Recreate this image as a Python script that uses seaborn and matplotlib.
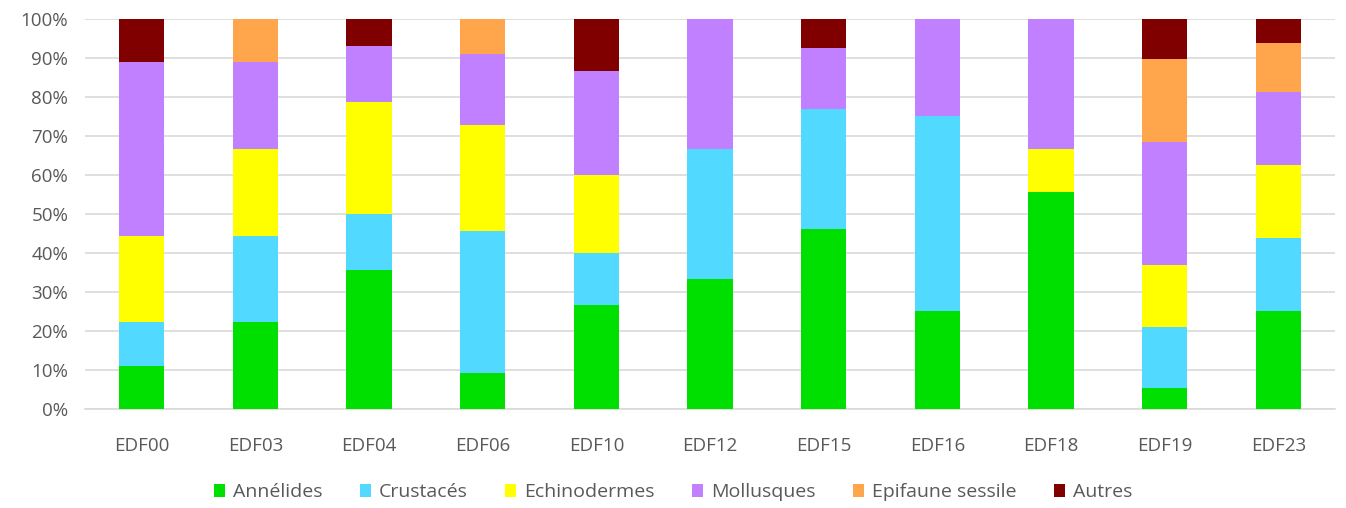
import numpy as np
import pandas as pd
import matplotlib
matplotlib.use("Agg")
import matplotlib.pyplot as plt
import seaborn as sns

sites = ["EDF00", "EDF03", "EDF04", "EDF06", "EDF10", "EDF12",
         "EDF15", "EDF16", "EDF18", "EDF19", "EDF23"]

# share of each group per site (%)
annelides    = [11.1, 22.2, 35.7, 9.1, 26.7, 33.3, 46.2, 25.0, 55.6, 5.3, 25.0]
crustaces    = [11.1, 22.2, 14.3, 36.4, 13.3, 33.3, 30.8, 50.0, 0.0, 15.8, 18.75]
echinodermes = [22.2, 22.2, 28.6, 27.3, 20.0, 0.0, 0.0, 0.0, 11.1, 15.8, 18.75]
mollusques   = [44.4, 22.2, 14.3, 18.2, 26.7, 33.3, 15.4, 25.0, 33.3, 31.6, 18.75]
epifaune     = [0.0, 11.1, 0.0, 9.1, 0.0, 0.0, 0.0, 0.0, 0.0, 21.1, 12.5]
autres       = [11.1, 0.0, 7.1, 0.0, 13.3, 0.0, 7.7, 0.0, 0.0, 10.5, 6.25]

groups = ["Annélides", "Crustacés", "Echinodermes", "Mollusques",
          "Epifaune sessile", "Autres"]
values = [annelides, crustaces, echinodermes, mollusques, epifaune, autres]
colors = ["#00e000", "#52d9ff", "#ffff00", "#c080ff", "#ffa64d", "#800000"]

sns.set_theme(style="white")
plt.rcParams["font.family"] = ["Open Sans", "DejaVu Sans"]

df = pd.DataFrame(dict(zip(groups, values)), index=sites)
cum = df.cumsum(axis=1)

fig = plt.figure(figsize=(13.46, 5.08), dpi=100)
ax = fig.add_axes([0.063, 0.195, 0.929, 0.768])

# draw cumulative totals from the top group down so lower segments sit on top
for g, c in reversed(list(zip(groups, colors))):
    sns.barplot(x=sites, y=cum[g].values, color=c, width=0.4,
                saturation=1, ax=ax, label=g, zorder=3,
                edgecolor="none", linewidth=0)

ax.set_ylim(0, 100)
ax.set_xlim(-0.5, 10.5)
ax.set_yticks(np.arange(0, 101, 10))
ax.set_yticklabels([f"{v}%" for v in range(0, 101, 10)])
ax.yaxis.grid(True, color="#d9d9d9", linewidth=1.2, zorder=0)
ax.set_axisbelow(True)
for s in ["top", "right", "left"]:
    ax.spines[s].set_visible(False)
ax.spines["bottom"].set_color("#d9d9d9")
ax.spines["bottom"].set_linewidth(1.2)
ax.tick_params(axis="both", length=0, labelsize=13.5, labelcolor="#595959")
ax.tick_params(axis="x", pad=20)
ax.tick_params(axis="y", pad=12)
ax.set_xlabel("")
ax.set_ylabel("")

handles, labels = ax.get_legend_handles_labels()
order = [labels.index(g) for g in groups]
ax.legend([handles[i] for i in order], groups, loc="center",
          bbox_to_anchor=(0.5, 0.031), bbox_transform=fig.transFigure,
          ncol=6, frameon=False, fontsize=14, labelcolor="#595959",
          handlelength=0.6, handleheight=0.6, handletextpad=0.4,
          columnspacing=1.9)

fig.savefig("out.png", dpi=100)
